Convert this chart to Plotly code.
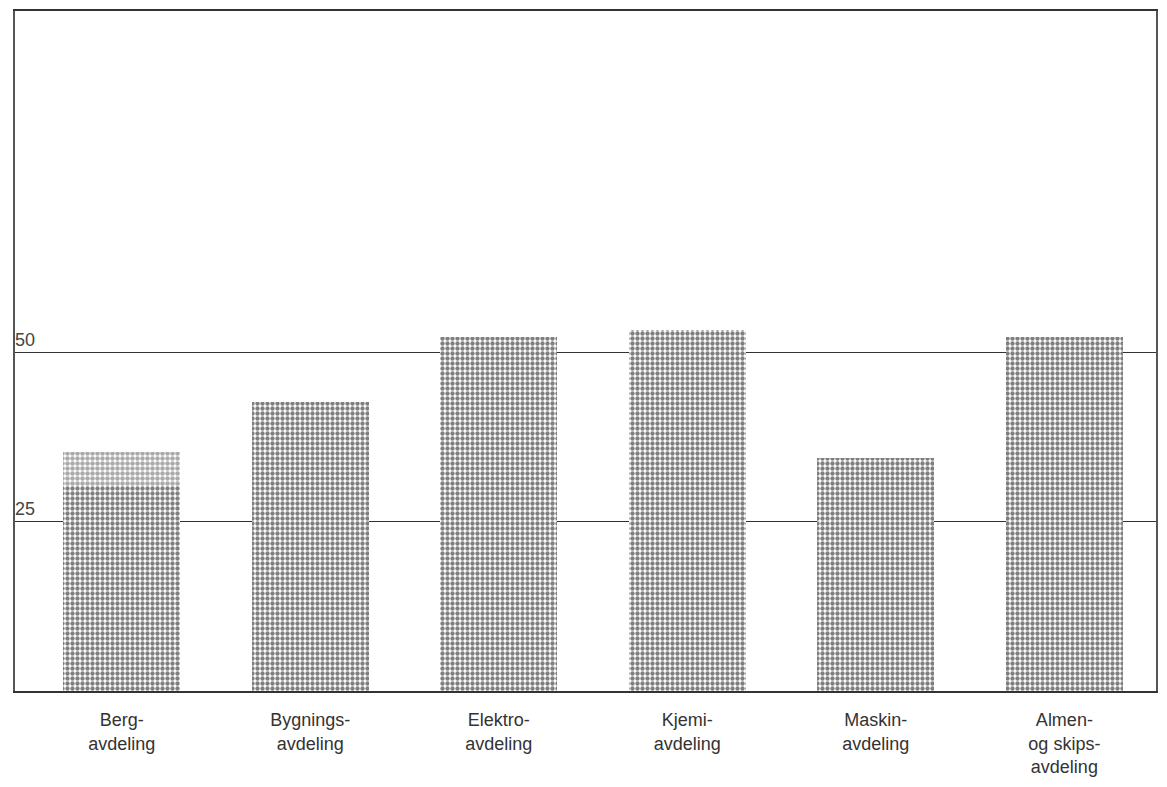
import plotly.graph_objects as go

categories = ["Berg-<br>avdeling", "Bygnings-<br>avdeling", "Elektro-<br>avdeling",
              "Kjemi-<br>avdeling", "Maskin-<br>avdeling", "Almen-<br>og skips-<br>avdeling"]
main_values = [30.2, 42.6, 52.2, 53.3, 34.3, 52.2]
top_values = [5.1, 0, 0, 0, 0, 0]
y_ticks = [25, 50]

x = list(range(len(categories)))

fig = go.Figure()
fig.add_trace(go.Bar(
    x=x, y=main_values, width=0.62,
    marker=dict(color="white", line=dict(width=0),
                pattern=dict(shape=".", fgcolor="#000000", bgcolor="white",
                             size=5, solidity=0.6)),
    showlegend=False, hoverinfo="skip"))
fig.add_trace(go.Bar(
    x=x, y=top_values, width=0.62,
    marker=dict(color="white", line=dict(width=0),
                pattern=dict(shape=".", fgcolor="#555555", bgcolor="white",
                             size=5, solidity=0.65)),
    showlegend=False, hoverinfo="skip"))

fig.update_layout(
    barmode="stack",
    width=1151, height=771,
    margin=dict(l=7, r=1, t=1, b=88),
    paper_bgcolor="white", plot_bgcolor="white",
    font=dict(family="Liberation Sans, Arial, sans-serif", color="#333333", size=18),
    xaxis=dict(range=[-0.566, 5.486], tickvals=x, ticktext=categories,
               showgrid=False, zeroline=False, showline=True, linecolor="#333",
               linewidth=1.6, mirror=True, ticks="", ticklabelstandoff=12,
               tickfont=dict(size=18, color="#333")),
    yaxis=dict(range=[0, 100.3], tickvals=y_ticks, ticktext=[str(v) for v in y_ticks],
               showgrid=True, gridcolor="#333", gridwidth=1.4, zeroline=False,
               showline=True, linecolor="#555", linewidth=1.6, mirror=True,
               ticks="", ticklabelposition="inside top",
               tickfont=dict(size=18, color="#444")),
)

fig.write_html("out.html")
